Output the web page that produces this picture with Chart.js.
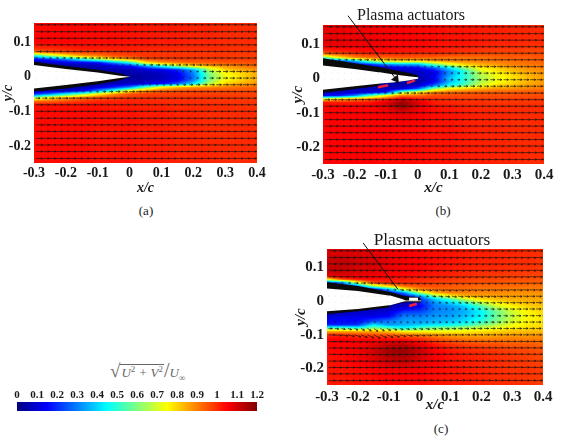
<!DOCTYPE html>
<html>
<head>
<meta charset="utf-8">
<title>Velocity fields</title>
<script src="https://cdn.jsdelivr.net/npm/chart.js@4/dist/chart.umd.min.js"></script>
<style>
  html, body { margin: 0; padding: 0; background: #fff; }
  body { position: relative; width: 561px; height: 438px; overflow: hidden; font-family: "Liberation Serif", serif; color: #1a1a1a; }
  canvas { position: absolute; }
  .note { position: absolute; transform: translate(-50%, -50%); white-space: nowrap; }
  .formula { position: absolute; left: 110px; top: 359px; font-size: 13px; font-style: italic; color: #666; white-space: nowrap; }
  .formula .root { font-style: normal; font-size: 19px; }
  .formula .under { border-top: 1px solid #666; padding: 0 1px; }
  .formula sup { font-size: 9px; font-style: normal; line-height: 0; }
  .formula sub { font-size: 9px; line-height: 0; }
  .formula .slash { font-style: normal; font-size: 20px; font-weight: normal; }
</style>
</head>
<body>
<canvas id="panelA"></canvas>
<canvas id="panelB"></canvas>
<canvas id="panelC"></canvas>
<canvas id="colorBar"></canvas>

<div class="note" style="left:146px;top:211px;font-size:13px">(a)</div>
<div class="note" style="left:443px;top:211px;font-size:13px">(b)</div>
<div class="note" style="left:441px;top:429px;font-size:13px">(c)</div>
<div class="note" style="left:411px;top:15px;font-size:16px">Plasma actuators</div>
<div class="note" style="left:432px;top:240px;font-size:17.3px">Plasma actuators</div>
<div class="formula"><span class="root">√</span><span class="under">U<sup>2</sup> + V<sup>2</sup></span><span class="slash">/</span>U<sub>∞</sub></div>

<script>
// axis ticks
const xTicks = [-0.3, -0.2, -0.1, 0, 0.1, 0.2, 0.3, 0.4];
const yTicks = [0.1, 0, -0.1, -0.2];
const barTicks = [0, 0.1, 0.2, 0.3, 0.4, 0.5, 0.6, 0.7, 0.8, 0.9, 1, 1.1, 1.2];

// measurement stations of the speed field
const fieldX = [-0.3, -0.25, -0.2, -0.15, -0.1, -0.05, 0, 0.05, 0.1, 0.15, 0.2, 0.25, 0.3, 0.35, 0.4];
const fieldRowsAB = [0.155, 0.1, 0.08, 0.07, 0.06, 0.05, 0.04, 0.03, 0.02, 0.01, 0, -0.01, -0.02, -0.03, -0.04, -0.05, -0.06, -0.07, -0.08, -0.1, -0.15, -0.25];
const fieldRowsC = [0.155, 0.12, 0.09, 0.075, 0.065, 0.055, 0.045, 0.035, 0.025, 0.015, 0.005, -0.005, -0.015, -0.03, -0.045, -0.06, -0.07, -0.08, -0.09, -0.1, -0.115, -0.13, -0.15, -0.175, -0.2, -0.25];

// speed, one row per y station, baseline case
const speedA = [
  [1.04,1.04,1.04,1.04,1.04,1.03,1.03,1.02,1.02,1.02,1.01,1.01,1,1,1],
  [1.05,1.05,1.05,1.04,1.04,1.04,1.03,1.03,1.02,1.02,1.01,1.01,1,1,1],
  [0.99,1,1.01,1.02,1.02,1.02,1.02,1.01,1.01,1,1,1,1,0.99,0.99],
  [0.88,0.92,0.95,0.97,0.98,0.99,1,0.99,0.99,0.99,0.99,0.99,0.99,0.99,0.99],
  [0.45,0.62,0.75,0.85,0.9,0.95,0.97,0.99,0.99,0.99,0.99,0.99,0.99,0.98,0.98],
  [0.15,0.2,0.3,0.46,0.6,0.75,0.85,0.95,0.97,0.98,0.98,0.98,0.98,0.98,0.98],
  [0.05,0.08,0.1,0.12,0.15,0.3,0.45,0.75,0.85,0.9,0.93,0.94,0.95,0.95,0.96],
  [0,0.05,0.05,0.05,0.06,0.1,0.14,0.3,0.46,0.6,0.75,0.82,0.87,0.9,0.93],
  [0,0,0.05,0.05,0.05,0.06,0.06,0.1,0.13,0.2,0.35,0.65,0.8,0.85,0.88],
  [0,0,0,0,0.04,0.05,0.05,0.06,0.08,0.13,0.3,0.6,0.75,0.8,0.85],
  [0,0,0,0,0,0.04,0.03,0.05,0.07,0.12,0.28,0.58,0.73,0.79,0.85],
  [0,0,0,0,0.04,0.05,0.05,0.06,0.08,0.13,0.3,0.6,0.75,0.8,0.85],
  [0,0,0.05,0.05,0.05,0.06,0.08,0.12,0.16,0.25,0.42,0.66,0.8,0.85,0.88],
  [0,0.05,0.05,0.05,0.1,0.18,0.3,0.55,0.75,0.82,0.86,0.88,0.9,0.92,0.93],
  [0.05,0.05,0.07,0.12,0.3,0.5,0.75,0.87,0.93,0.95,0.96,0.96,0.96,0.96,0.96],
  [0.2,0.3,0.45,0.6,0.75,0.88,0.95,0.98,0.98,0.98,0.98,0.98,0.98,0.98,0.98],
  [0.6,0.75,0.85,0.9,0.95,0.97,0.99,0.99,0.99,0.99,0.99,0.99,0.99,0.98,0.98],
  [0.9,0.92,0.95,0.98,1,1.01,1.01,1.01,1,1,1,0.99,0.99,0.99,0.99],
  [1.03,1.03,1.03,1.03,1.03,1.02,1.02,1.01,1.01,1,1,1,1,0.99,0.99],
  [1.04,1.04,1.04,1.04,1.04,1.03,1.03,1.02,1.02,1.01,1.01,1,1,1,1],
  [1.04,1.04,1.04,1.04,1.03,1.03,1.03,1.02,1.02,1.01,1.01,1,1,1,1],
  [1.04,1.04,1.04,1.04,1.03,1.03,1.03,1.02,1.02,1.01,1.01,1.01,1,1,1]
];

// speed with the first actuator running
const speedB = [
  [1.07,1.07,1.06,1.06,1.05,1.05,1.04,1.04,1.03,1.03,1.02,1.02,1.01,1.01,1],
  [1.08,1.08,1.07,1.07,1.06,1.05,1.05,1.04,1.03,1.03,1.02,1.01,1.01,1,1],
  [1,1.02,1.03,1.04,1.04,1.03,1.03,1.02,1.01,1,0.99,0.98,0.98,0.97,0.97],
  [0.9,0.94,0.98,1,1,1,0.99,0.99,0.98,0.97,0.96,0.96,0.96,0.96,0.96],
  [0.55,0.75,0.88,0.92,0.93,0.94,0.94,0.93,0.92,0.92,0.92,0.93,0.94,0.94,0.95],
  [0.15,0.2,0.36,0.6,0.75,0.78,0.78,0.84,0.88,0.89,0.9,0.91,0.92,0.93,0.94],
  [0.05,0.08,0.12,0.2,0.3,0.35,0.35,0.55,0.7,0.8,0.84,0.87,0.9,0.91,0.92],
  [0,0.05,0.06,0.08,0.1,0.12,0.14,0.25,0.42,0.62,0.76,0.8,0.85,0.88,0.9],
  [0,0,0.04,0.05,0.06,0.07,0.08,0.12,0.32,0.5,0.7,0.77,0.82,0.86,0.88],
  [0,0,0,0,0.05,0.06,0.07,0.12,0.33,0.5,0.66,0.74,0.79,0.84,0.87],
  [0,0,0,0,0,0.05,0.05,0.12,0.38,0.5,0.65,0.73,0.78,0.83,0.87],
  [0,0,0,0,0.04,0.05,0.05,0.12,0.36,0.5,0.66,0.74,0.79,0.84,0.87],
  [0,0,0.05,0.05,0.05,0.05,0.08,0.25,0.45,0.56,0.7,0.78,0.82,0.86,0.88],
  [0,0.05,0.06,0.07,0.07,0.1,0.25,0.6,0.75,0.8,0.84,0.87,0.88,0.9,0.91],
  [0.05,0.06,0.08,0.1,0.15,0.6,0.75,0.88,0.92,0.93,0.94,0.94,0.94,0.95,0.95],
  [0.15,0.18,0.3,0.55,0.75,0.9,0.92,0.96,0.96,0.96,0.96,0.96,0.96,0.96,0.96],
  [0.75,0.8,0.87,0.92,0.98,1.08,1.02,1,0.99,0.98,0.98,0.98,0.98,0.98,0.98],
  [1.03,1.02,1.02,1.03,1.08,1.17,1.09,1.02,1.01,1,1,0.99,0.99,0.99,0.99],
  [1.05,1.05,1.05,1.05,1.09,1.17,1.09,1.03,1.02,1.01,1,1,1,1,1],
  [1.05,1.05,1.05,1.05,1.06,1.08,1.06,1.04,1.03,1.02,1.01,1.01,1,1,1],
  [1.05,1.05,1.05,1.05,1.05,1.04,1.04,1.03,1.03,1.02,1.01,1.01,1,1,1],
  [1.05,1.05,1.05,1.05,1.04,1.04,1.04,1.03,1.03,1.02,1.02,1.01,1.01,1,1]
];

// speed with both actuators running
const speedC = [
  [1.08,1.08,1.08,1.07,1.06,1.05,1.04,1.03,1.03,1.02,1.02,1.01,1.01,1,1],
  [1.12,1.12,1.11,1.1,1.08,1.06,1.05,1.04,1.03,1.02,1.01,1.01,1,1,0.99],
  [1.12,1.12,1.1,1.09,1.07,1.06,1.05,1.03,1.02,1.01,1,1,0.99,0.99,0.98],
  [1.08,1.08,1.07,1.06,1.05,1.04,1.03,1.02,1.01,1,0.99,0.98,0.98,0.97,0.97],
  [0.75,0.98,1.03,1.04,1.03,1.02,1.01,1,0.99,0.98,0.97,0.97,0.96,0.96,0.95],
  [0.2,0.3,0.72,0.96,1,1,0.99,0.98,0.97,0.96,0.95,0.95,0.94,0.94,0.94],
  [0.05,0.12,0.3,0.65,0.82,0.93,0.96,0.96,0.95,0.94,0.93,0.93,0.93,0.92,0.92],
  [0,0.05,0.1,0.15,0.35,0.72,0.88,0.92,0.93,0.92,0.91,0.91,0.9,0.9,0.9],
  [0,0,0.05,0.1,0.14,0.3,0.65,0.84,0.9,0.9,0.89,0.89,0.88,0.88,0.88],
  [0,0,0,0.05,0.1,0.14,0.3,0.6,0.75,0.83,0.86,0.86,0.86,0.86,0.86],
  [0,0,0,0,0.05,0.08,0.2,0.38,0.52,0.68,0.78,0.82,0.84,0.85,0.85],
  [0,0,0,0,0.04,0.07,0.18,0.32,0.4,0.52,0.66,0.76,0.8,0.83,0.84],
  [0,0,0,0.03,0.06,0.08,0.14,0.3,0.33,0.4,0.55,0.7,0.76,0.8,0.82],
  [0,0.05,0.08,0.08,0.1,0.2,0.22,0.3,0.32,0.36,0.45,0.58,0.7,0.76,0.8],
  [0.1,0.12,0.12,0.12,0.15,0.3,0.3,0.33,0.34,0.38,0.45,0.57,0.68,0.75,0.78],
  [0.14,0.16,0.16,0.24,0.3,0.34,0.34,0.36,0.38,0.42,0.5,0.6,0.7,0.76,0.78],
  [0.18,0.18,0.2,0.42,0.32,0.36,0.38,0.42,0.45,0.5,0.58,0.66,0.73,0.77,0.79],
  [0.55,0.55,0.5,0.6,0.55,0.45,0.55,0.6,0.62,0.66,0.7,0.74,0.77,0.79,0.8],
  [0.85,0.85,0.85,0.85,0.82,0.76,0.75,0.75,0.75,0.76,0.78,0.8,0.82,0.83,0.83],
  [1,1,0.98,0.97,0.95,0.92,0.9,0.87,0.85,0.84,0.84,0.85,0.86,0.86,0.87],
  [1.06,1.06,1.05,1.05,1.05,1.04,1.01,0.97,0.94,0.92,0.91,0.91,0.91,0.91,0.91],
  [1.05,1.05,1.06,1.08,1.12,1.13,1.08,1.03,1,0.98,0.97,0.96,0.95,0.95,0.94],
  [1.04,1.05,1.07,1.1,1.16,1.17,1.12,1.06,1.03,1.01,1,0.99,0.98,0.97,0.96],
  [1.03,1.04,1.06,1.08,1.12,1.13,1.09,1.06,1.03,1.02,1.01,1,0.99,0.98,0.97],
  [1.03,1.03,1.04,1.05,1.07,1.07,1.06,1.04,1.03,1.02,1.01,1,0.99,0.99,0.98],
  [1.02,1.02,1.03,1.03,1.04,1.04,1.04,1.03,1.02,1.02,1.01,1,1,0.99,0.98]
];

// arrow grid, shared by the three cases
const arrowX = [-0.295,-0.274,-0.253,-0.232,-0.211,-0.19,-0.169,-0.148,-0.127,-0.106,-0.085,-0.064,-0.043,-0.022,-0.001,0.02,0.041,0.062,0.083,0.104,0.125,0.146,0.167,0.188,0.209,0.23,0.251,0.272,0.293,0.314,0.335,0.356,0.377,0.398];
const arrowY = [0.15,0.13,0.111,0.092,0.073,0.054,0.034,0.015,-0.004,-0.023,-0.043,-0.062,-0.081,-0.1,-0.12,-0.139,-0.158,-0.178,-0.197,-0.216,-0.236];

// arrow slope dy/dx
const slopeXAB = [-0.3, 0.4];
const slopeRowsAB = [0.155, -0.25];
const slopeAB = [[-0.01, -0.01], [0.01, 0.01]];
const slopeXC = [-0.3, -0.15, -0.05, 0.1, 0.25, 0.4];
const slopeRowsC = [0.155, 0.06, 0, -0.06, -0.085, -0.12, -0.25];
const slopeC = [
  [-0.02,-0.03,-0.04,-0.05,-0.05,-0.04],
  [-0.03,-0.06,-0.1,-0.12,-0.1,-0.06],
  [0,0,-0.1,-0.15,-0.08,-0.03],
  [0,0.05,-0.1,-0.1,-0.05,0],
  [0,-0.8,-0.3,-0.05,0,0],
  [0,-0.1,-0.05,0.04,0.04,0.02],
  [0,0.05,0.08,0.08,0.05,0.02]
];

// airfoil surfaces: black skin between outer lines, white inside
const foilXA = [-0.3, -0.2, -0.1, -0.03, 0.002];
const outerTopA = [0.043, 0.031, 0.02, 0.01, 0];
const innerTopA = [0.034, 0.022, 0.012, 0.003, 0];
const innerBotA = [-0.034, -0.024, -0.013, -0.004, 0];
const outerBotA = [-0.043, -0.034, -0.022, -0.01, 0];

const foilXB = [-0.3, -0.2, -0.125, -0.12, -0.08, -0.03, 0, 0.002];
const outerTopB = [0.058, 0.044, 0.033, 0.033, 0.025, 0.016, 0.009, 0.004];
const innerTopB = [0.037, 0.027, 0.018, 0.018, 0.012, 0.006, 0.003, 0.003];
const innerBotB = [-0.033, -0.023, -0.016, -0.015, -0.012, -0.006, -0.001, -0.001];
const outerBotB = [-0.042, -0.031, -0.022, -0.015, -0.012, -0.006, -0.001, -0.001];

const foilXC = [-0.3, -0.2, -0.1, -0.095, -0.054, -0.045, 0, 0.006];
const outerTopC = [0.056, 0.045, 0.028, 0.027, 0.017, 0.015, 0.012, 0.003];
const innerTopC = [0.038, 0.03, 0.017, 0.017, 0.006, 0.002, 0.002, 0.002];
const innerBotC = [-0.03, -0.023, -0.012, -0.012, -0.002, 0, 0, 0];
const outerBotC = [-0.038, -0.03, -0.019, -0.012, -0.004, -0.004, -0.004, -0.001];
const slotXC = [-0.034, -0.005];
const slotYC = [0.006, 0.006];

// actuator strips and leader lines
const stripsB = [[[-0.126, -0.026], [-0.094, -0.02]], [[-0.034, -0.014], [-0.009, -0.006]]];
const stripsC = [[[-0.034, -0.014], [-0.009, -0.008]]];
const leaderB = [[-0.221, 0.182], [-0.069, -0.002]];
const leaderC = [[-0.183, 0.173], [-0.07, 0.035]];

function jet(v) {
  const t = Math.max(0, Math.min(1, v / 1.2));
  const ch = (c) => Math.round(255 * Math.max(0, Math.min(1, 1.5 - Math.abs(4 * t - c))));
  return [ch(3), ch(2), ch(1)];
}

// bilinear lookup on a grid whose rows run from high y to low y
function lookup(xs, rows, grid, x, y) {
  let c = 0;
  while (c < xs.length - 2 && x > xs[c + 1]) c++;
  let r = 0;
  while (r < rows.length - 2 && y < rows[r + 1]) r++;
  const fx = Math.max(0, Math.min(1, (x - xs[c]) / (xs[c + 1] - xs[c])));
  const fy = Math.max(0, Math.min(1, (rows[r] - y) / (rows[r] - rows[r + 1])));
  const top = grid[r][c] * (1 - fx) + grid[r][c + 1] * fx;
  const bot = grid[r + 1][c] * (1 - fx) + grid[r + 1][c + 1] * fx;
  return top * (1 - fy) + bot * fy;
}

// paints the speed field under the datasets, like shading interp
function fieldPlugin(xs, rows, grid) {
  return {
    id: "speedField",
    beforeDatasetsDraw(chart) {
      const { ctx, chartArea, scales } = chart;
      const w = Math.round(chartArea.right - chartArea.left);
      const h = Math.round(chartArea.bottom - chartArea.top);
      const off = document.createElement("canvas");
      off.width = w;
      off.height = h;
      const offCtx = off.getContext("2d");
      const img = offCtx.createImageData(w, h);
      for (let j = 0; j < h; j++) {
        const y = scales.y.getValueForPixel(chartArea.top + j + 0.5);
        for (let i = 0; i < w; i++) {
          const x = scales.x.getValueForPixel(chartArea.left + i + 0.5);
          const rgb = jet(lookup(xs, rows, grid, x, y));
          const k = (j * w + i) * 4;
          img.data[k] = rgb[0];
          img.data[k + 1] = rgb[1];
          img.data[k + 2] = rgb[2];
          img.data[k + 3] = 255;
        }
      }
      offCtx.putImageData(img, 0, 0);
      ctx.drawImage(off, chartArea.left, chartArea.top);
    },
  };
}

// velocity arrows on top of everything
function arrowPlugin(panel) {
  return {
    id: "arrows",
    afterDatasetsDraw(chart) {
      const { ctx, chartArea, scales } = chart;
      ctx.save();
      ctx.beginPath();
      ctx.rect(chartArea.left, chartArea.top, chartArea.right - chartArea.left, chartArea.bottom - chartArea.top);
      ctx.clip();
      ctx.lineWidth = 0.8;
      arrowY.forEach((ay) => {
        arrowX.forEach((ax) => {
          const speed = lookup(fieldX, panel.rows, panel.speed, ax, ay);
          const slope = lookup(panel.slopeX, panel.slopeRows, panel.slope, ax, ay);
          const x0 = scales.x.getPixelForValue(ax);
          const y0 = scales.y.getPixelForValue(ay);
          const x1 = scales.x.getPixelForValue(ax + 0.021 * speed);
          const y1 = scales.y.getPixelForValue(ay + 0.021 * speed * slope);
          const alpha = Math.min(0.8, 0.15 + speed * 1.2);
          ctx.strokeStyle = `rgba(15,15,15,${alpha})`;
          ctx.beginPath();
          ctx.moveTo(x0, y0);
          ctx.lineTo(Math.max(x1, x0 + 0.8), y1);
          if (speed > 0.15) {
            const ang = Math.atan2(y1 - y0, x1 - x0);
            ctx.moveTo(x1 - 2 * Math.cos(ang - 0.5), y1 - 2 * Math.sin(ang - 0.5));
            ctx.lineTo(x1, y1);
            ctx.lineTo(x1 - 2 * Math.cos(ang + 0.5), y1 - 2 * Math.sin(ang + 0.5));
          }
          ctx.stroke();
        });
      });
      ctx.restore();
    },
  };
}

const toPoints = (xs, ys) => xs.map((x, i) => ({ x: x, y: ys[i] }));
const pairPoints = (pairs) => pairs.map((p) => ({ x: p[0], y: p[1] }));

function surface(xs, ys, fill, color) {
  return {
    data: toPoints(xs, ys),
    borderWidth: 0,
    borderColor: color,
    backgroundColor: color,
    pointRadius: 0,
    fill: fill,
    tension: 0,
  };
}

function drawPanel(panel) {
  const el = document.getElementById(panel.id);
  const box = panel.box;
  const m = panel.margin;
  const width = m.left + (box.right - box.left) + m.right;
  const height = m.top + (box.bottom - box.top) + m.bottom;
  el.style.left = box.left - m.left + "px";
  el.style.top = box.top - m.top + "px";
  el.width = width;
  el.height = height;

  const tickFont = { family: "Liberation Serif", size: panel.fontSize, weight: "bold" };
  const titleFont = { family: "Liberation Serif", size: panel.fontSize, weight: "bold", style: "italic" };

  // drawn last to first, so the white interior goes first in the list
  const datasets = [];
  panel.strips.forEach((s) => {
    datasets.push({ data: pairPoints(s), borderColor: "#e9213f", borderWidth: 2.6, pointRadius: 0 });
  });
  datasets.push({
    data: pairPoints(panel.leader),
    borderColor: "#111",
    borderWidth: 1,
    clip: false,
    pointStyle: "triangle",
    pointRadius: panel.headSize,
    pointRotation: 143,
    backgroundColor: "#111",
    pointBorderWidth: 0,
  });
  if (panel.slot) {
    datasets.push({ data: toPoints(panel.slot[0], panel.slot[1]), borderColor: "#fff", borderWidth: 3, pointRadius: 0 });
  }
  datasets.push(surface(panel.foilX, panel.innerTop, false, "#fff"));
  datasets.push(surface(panel.foilX, panel.innerBot, "-1", "#fff"));
  datasets.push(surface(panel.foilX, panel.outerTop, false, "#0a0a0a"));
  datasets.push(surface(panel.foilX, panel.outerBot, "-1", "#0a0a0a"));

  new Chart(el, {
    type: "line",
    data: { datasets: datasets },
    plugins: [fieldPlugin(fieldX, panel.rows, panel.speed), arrowPlugin(panel)],
    options: {
      responsive: false,
      animation: false,
      devicePixelRatio: 1,
      parsing: false,
      layout: { padding: { left: 0, top: m.top, right: m.right, bottom: 0 } },
      plugins: { legend: { display: false }, tooltip: { enabled: false } },
      scales: {
        x: {
          type: "linear",
          min: -0.3,
          max: 0.4,
          afterBuildTicks: (scale) => { scale.ticks = xTicks.map((v) => ({ value: v })); },
          afterFit: (scale) => {
            scale.height = m.bottom;
            scale.paddingLeft = 0;
            scale.paddingRight = 0;
          },
          grid: { display: false, drawTicks: false },
          border: { display: false },
          ticks: { color: "#1a1a1a", font: tickFont, padding: panel.tickPad, maxRotation: 0, autoSkip: false, callback: (v) => String(v) },
          title: { display: true, text: "x/c", color: "#1a1a1a", font: titleFont, padding: 0 },
        },
        y: {
          type: "linear",
          min: -0.249,
          max: 0.155,
          afterBuildTicks: (scale) => { scale.ticks = yTicks.map((v) => ({ value: v })); },
          afterFit: (scale) => {
            scale.width = m.left;
            scale.paddingTop = 0;
            scale.paddingBottom = 0;
          },
          grid: { display: false, drawTicks: false },
          border: { display: false },
          ticks: { color: "#1a1a1a", font: tickFont, padding: 3, autoSkip: false, callback: (v) => String(v) },
          title: { display: true, text: "y/c", color: "#1a1a1a", font: titleFont, padding: 0 },
        },
      },
    },
  });
}

drawPanel({
  id: "panelA",
  box: { left: 34, top: 23, right: 257, bottom: 163 },
  margin: { left: 34, top: 23, right: 20, bottom: 34 },
  fontSize: 14,
  tickPad: 2,
  rows: fieldRowsAB,
  speed: speedA,
  slopeX: slopeXAB,
  slopeRows: slopeRowsAB,
  slope: slopeAB,
  foilX: foilXA,
  outerTop: outerTopA,
  innerTop: innerTopA,
  innerBot: innerBotA,
  outerBot: outerBotA,
  strips: [],
  leader: [],
  headSize: 0,
});

drawPanel({
  id: "panelB",
  box: { left: 323, top: 25, right: 544, bottom: 164 },
  margin: { left: 34, top: 25, right: 17, bottom: 33 },
  fontSize: 15,
  tickPad: 2,
  rows: fieldRowsAB,
  speed: speedB,
  slopeX: slopeXAB,
  slopeRows: slopeRowsAB,
  slope: slopeAB,
  foilX: foilXB,
  outerTop: outerTopB,
  innerTop: innerTopB,
  innerBot: innerBotB,
  outerBot: outerBotB,
  strips: stripsB,
  leader: leaderB,
  headSize: [0, 5],
});

drawPanel({
  id: "panelC",
  box: { left: 327, top: 249, right: 543, bottom: 385 },
  margin: { left: 35, top: 24, right: 18, bottom: 29 },
  fontSize: 15,
  tickPad: 3,
  rows: fieldRowsC,
  speed: speedC,
  slopeX: slopeXC,
  slopeRows: slopeRowsC,
  slope: slopeC,
  foilX: foilXC,
  outerTop: outerTopC,
  innerTop: innerTopC,
  innerBot: innerBotC,
  outerBot: outerBotC,
  slot: [slotXC, slotYC],
  strips: stripsC,
  leader: leaderC,
  headSize: 0,
});

// colour scale strip, same painter with speed as the x axis
const barEl = document.getElementById("colorBar");
barEl.style.left = "0px";
barEl.style.top = "385px";
barEl.width = 277;
barEl.height = 27;
new Chart(barEl, {
  type: "line",
  data: { datasets: [{ data: [] }] },
  plugins: [fieldPlugin(barTicks, [1, 0], [barTicks, barTicks])],
  options: {
    responsive: false,
    animation: false,
    devicePixelRatio: 1,
    layout: { padding: { left: 17, top: 0, right: 20, bottom: 1 } },
    plugins: { legend: { display: false }, tooltip: { enabled: false } },
    scales: {
      x: {
        type: "linear",
        position: "top",
        min: 0,
        max: 1.2,
        afterBuildTicks: (scale) => { scale.ticks = barTicks.map((v) => ({ value: v })); },
        afterFit: (scale) => {
          scale.height = 17;
          scale.paddingLeft = 0;
          scale.paddingRight = 0;
        },
        grid: { display: false, drawTicks: false },
        border: { display: false },
        ticks: { color: "#1a1a1a", font: { family: "Liberation Serif", size: 11, weight: "bold" }, padding: 0, maxRotation: 0, autoSkip: false, callback: (v) => String(v) },
      },
      y: { type: "linear", min: 0, max: 1, display: false },
    },
  },
});
</script>
</body>
</html>
